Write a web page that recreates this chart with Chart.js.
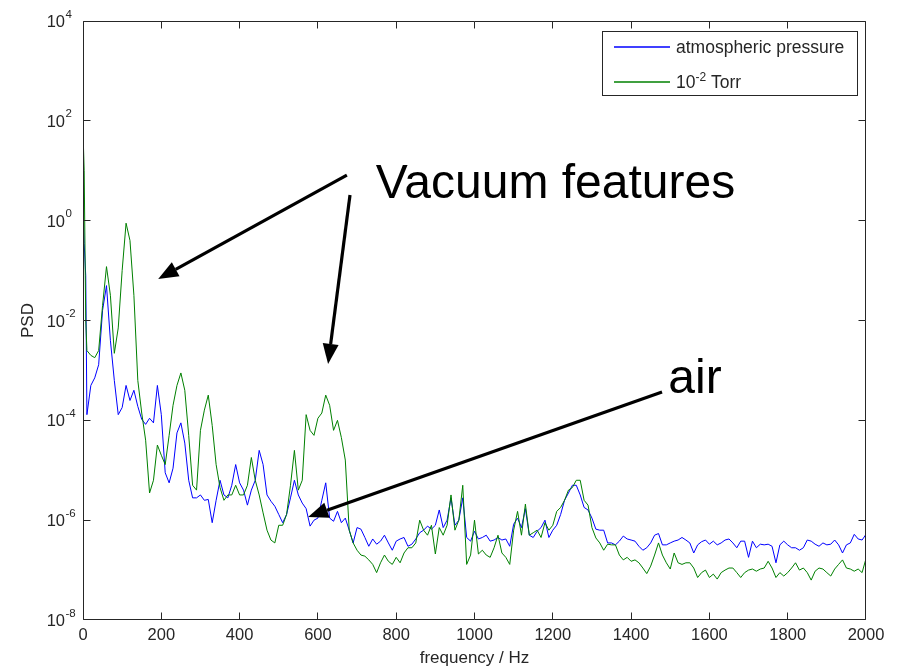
<!DOCTYPE html>
<html>
<head>
<meta charset="utf-8">
<script src="https://cdn.jsdelivr.net/npm/chart.js@4.4.0/dist/chart.umd.min.js"></script>
<style>
html,body{margin:0;padding:0;background:#fff;}
#wrap{width:899px;height:668px;}
</style>
</head>
<body>
<div id="wrap"><canvas id="c" width="899" height="668"></canvas></div>
<script>
// ---------------- data ----------------
const freqHz = [0,3,7,
10,20,30,40,50,60,70,80,90,100,
110,120,130,140,150,160,170,180,190,200,
210,220,230,240,250,260,270,280,290,300,
310,320,330,340,350,360,370,380,390,400,
410,420,430,440,450,460,470,480,490,500,
510,520,530,540,550,560,570,580,590,600,
610,620,630,640,650,660,670,680,690,700,
710,720,730,740,750,760,770,780,790,800,
810,820,830,840,850,860,870,880,890,900,
910,920,930,940,950,960,970,980,990,1000,
1010,1020,1030,1040,1050,1060,1070,1080,1090,1100,
1110,1120,1130,1140,1150,1160,1170,1180,1190,1200,
1210,1220,1230,1240,1250,1260,1270,1280,1290,1300,
1310,1320,1330,1340,1350,1360,1370,1380,1390,1400,
1410,1420,1430,1440,1450,1460,1470,1480,1490,1500,
1510,1520,1530,1540,1550,1560,1570,1580,1590,1600,
1610,1620,1630,1640,1650,1660,1670,1680,1690,1700,
1710,1720,1730,1740,1750,1760,1770,1780,1790,1800,
1810,1820,1830,1840,1850,1860,1870,1880,1890,1900,
1910,1920,1930,1940,1950,1960,1970,1980,1990,2000];

const atmosphericPSD = [2.0,0.35,0.079,
1.3e-4,5.0e-4,7.1e-4,1.3e-3,1.6e-2,5.0e-2,4.0e-3,6.3e-4,1.3e-4,1.8e-4,
5.0e-4,2.5e-4,4.0e-4,1.9e-4,1.05e-4,8.3e-5,1.1e-4,8.9e-5,5.0e-4,1.3e-4,
8.9e-6,5.6e-6,1.1e-5,5.6e-5,8.9e-5,3.5e-5,6.3e-6,2.8e-6,2.8e-6,3.2e-6,
2.5e-6,2.6e-6,8.9e-7,2.5e-6,6.3e-6,3.2e-6,2.8e-6,5.0e-6,1.3e-5,5.6e-6,
4.0e-6,2.0e-6,4.0e-6,6.3e-6,2.5e-5,1.3e-5,3.2e-6,2.4e-6,1.9e-6,1.3e-6,
8.9e-7,1.3e-6,2.8e-6,6.3e-6,3.2e-6,2.2e-6,1.7e-6,7.6e-7,1.0e-6,1.1e-6,
2.5e-6,5.6e-6,1.1e-6,9.5e-7,1.5e-6,8.9e-7,1.1e-6,6.3e-7,3.5e-7,7.1e-7,
6.6e-7,4.5e-7,3.0e-7,4.2e-7,3.3e-7,3.8e-7,5.0e-7,3.5e-7,2.5e-7,3.8e-7,
4.2e-7,4.5e-7,3.0e-7,3.3e-7,4.2e-7,5.6e-7,6.3e-7,7.6e-7,6.6e-7,7.9e-7,
1.6e-6,7.1e-7,1.0e-6,2.8e-6,7.9e-7,1.0e-6,2.8e-6,4.5e-7,3.8e-7,6.0e-7,
4.2e-7,4.5e-7,5.0e-7,3.8e-7,4.0e-7,4.5e-7,4.0e-7,4.2e-7,3.0e-7,8.3e-7,
1.1e-6,7.1e-7,1.7e-6,5.0e-7,4.5e-7,6.0e-7,7.1e-7,1.0e-6,4.5e-7,6.3e-7,
7.9e-7,1.3e-6,2.5e-6,3.5e-6,5.0e-6,5.0e-6,3.2e-6,1.8e-6,1.6e-6,1.1e-6,
6.6e-7,6.3e-7,6.3e-7,3.5e-7,3.5e-7,3.2e-7,3.8e-7,4.8e-7,4.2e-7,4.0e-7,
3.8e-7,3.0e-7,2.5e-7,2.8e-7,3.5e-7,5.0e-7,5.4e-7,3.2e-7,3.2e-7,3.5e-7,
3.8e-7,4.0e-7,4.5e-7,4.0e-7,3.5e-7,2.2e-7,3.2e-7,3.7e-7,4.0e-7,3.3e-7,
3.8e-7,3.2e-7,3.5e-7,4.0e-7,4.2e-7,3.5e-7,2.8e-7,3.8e-7,3.8e-7,1.8e-7,
3.8e-7,2.8e-7,3.3e-7,3.2e-7,3.3e-7,3.0e-7,1.4e-7,3.2e-7,3.8e-7,3.2e-7,
2.8e-7,2.8e-7,2.5e-7,2.8e-7,4.0e-7,3.8e-7,3.3e-7,3.0e-7,3.5e-7,3.2e-7,
3.3e-7,4.0e-7,3.2e-7,2.2e-7,3.2e-7,3.5e-7,5.2e-7,4.2e-7,4.0e-7,5.2e-7];

const torrPSD = [63,10,1.0e-2,
2.5e-3,2.0e-3,1.8e-3,2.5e-3,2.0e-2,0.12,3.2e-2,2.2e-3,7.1e-3,0.10,
0.89,0.40,3.2e-2,6.3e-4,1.4e-4,4.0e-5,3.5e-6,6.3e-6,3.2e-5,2.0e-5,
1.3e-5,5.0e-5,2.0e-4,5.0e-4,8.9e-4,4.0e-4,5.0e-5,5.0e-6,4.0e-6,6.3e-5,
1.6e-4,3.2e-4,7.9e-5,1.3e-5,4.5e-6,2.5e-6,3.2e-6,3.2e-6,5.0e-6,3.2e-6,
3.2e-6,5.0e-6,1.8e-5,6.3e-6,3.2e-6,1.4e-6,6.3e-7,4.0e-7,3.5e-7,7.9e-7,
7.9e-7,1.3e-6,5.0e-6,2.5e-5,4.0e-6,6.3e-6,1.3e-4,6.3e-5,5.0e-5,1.1e-4,
1.4e-4,3.2e-4,2.0e-4,6.3e-5,1.0e-4,4.5e-5,1.6e-5,6.3e-7,3.5e-7,2.5e-7,
2.0e-7,1.9e-7,1.6e-7,1.3e-7,8.9e-8,1.4e-7,2.0e-7,1.5e-7,1.3e-7,1.8e-7,
1.4e-7,2.2e-7,2.8e-7,2.8e-7,3.5e-7,1.0e-6,6.3e-7,5.0e-7,7.9e-7,2.1e-7,
7.1e-7,5.0e-7,7.9e-7,3.2e-6,6.3e-7,1.0e-6,5.0e-6,1.3e-7,2.0e-7,1.0e-6,
2.1e-7,2.5e-7,2.0e-7,1.8e-7,2.8e-7,5.0e-7,2.2e-7,1.8e-7,1.3e-7,6.3e-7,
1.5e-6,5.0e-7,2.1e-6,5.0e-7,5.6e-7,6.3e-7,4.5e-7,8.9e-7,6.3e-7,7.9e-7,
1.5e-6,1.8e-6,2.5e-6,4.0e-6,4.5e-6,6.3e-6,6.3e-6,2.5e-6,2.0e-6,7.1e-7,
4.4e-7,3.5e-7,2.5e-7,3.3e-7,3.2e-7,3.2e-7,2.0e-7,1.6e-7,1.8e-7,1.5e-7,
1.6e-7,1.4e-7,1.1e-7,8.5e-8,1.2e-7,2.0e-7,3.5e-7,2.0e-7,1.4e-7,1.05e-7,
2.2e-7,1.4e-7,1.3e-7,1.4e-7,1.4e-7,1.1e-7,7.1e-8,8.9e-8,1.0e-7,7.1e-8,
8.3e-8,6.6e-8,8.9e-8,1.0e-7,1.1e-7,1.1e-7,8.9e-8,7.1e-8,8.9e-8,1.0e-7,
1.05e-7,9.5e-8,1.05e-7,1.1e-7,1.5e-7,1.1e-7,7.1e-8,8.9e-8,7.6e-8,8.9e-8,
1.1e-7,1.4e-7,1.0e-7,1.1e-7,8.9e-8,6.3e-8,9.5e-8,1.1e-7,1.05e-7,8.9e-8,
7.6e-8,1.05e-7,1.3e-7,1.6e-7,1.1e-7,1.05e-7,9.5e-8,1.05e-7,8.9e-8,1.7e-7];

const seriesLabels = ['atmospheric pressure', '10^{-2} Torr'];
const xTickValues = [0,200,400,600,800,1000,1200,1400,1600,1800,2000];
const yTickValues = [1e-8,1e-6,1e-4,1e-2,1e0,1e2,1e4];
const xAxisTitle = 'frequency / Hz';
const yAxisTitle = 'PSD';

// callouts placed in data coordinates (frequency, PSD)
const calloutLabels = [
  {text: 'Vacuum features', at: [748, 2.85]},
  {text: 'air', at: [1495, 3.53e-4]}
];
const calloutArrows = [
  {from: [674, 8.2], to: [192, 0.068]},
  {from: [682, 3.27], to: [626, 1.35e-3]},
  {from: [1479, 3.7e-4], to: [575, 1.16e-6]}
];

// ---------------- style ----------------
const FONT = '"Liberation Sans", Arial, Helvetica, sans-serif';
const INK = '#262626';
const SERIES_COLORS = ['#0000ff', '#008000'];

function parseRich(label){
  const m = label.match(/^(.*?)\^\{(.*?)\}(.*)$/);
  if(!m) return [{t: label}];
  return [{t: m[1]}, {t: m[2], sup: true}, {t: m[3]}];
}
function drawRich(ctx, parts, x, y, size, supSize, rise){
  let cx = x;
  ctx.textAlign = 'left';
  ctx.textBaseline = 'alphabetic';
  parts.forEach(p => {
    if(!p.t) return;
    ctx.font = (p.sup ? supSize : size) + 'px ' + FONT;
    ctx.fillText(p.t, cx, p.sup ? y - rise : y);
    cx += ctx.measureText(p.t).width;
  });
}
function drawArrow(ctx, x1, y1, x2, y2){
  const ang = Math.atan2(y2 - y1, x2 - x1);
  const L = 20, W = 8;
  const bx = x2 - L * Math.cos(ang), by = y2 - L * Math.sin(ang);
  ctx.beginPath();
  ctx.moveTo(x1, y1); ctx.lineTo(bx, by);
  ctx.lineWidth = 3.2; ctx.strokeStyle = '#000'; ctx.lineCap = 'butt';
  ctx.stroke();
  ctx.beginPath();
  ctx.moveTo(x2, y2);
  ctx.lineTo(bx + W * Math.sin(ang), by - W * Math.cos(ang));
  ctx.lineTo(bx - W * Math.sin(ang), by + W * Math.cos(ang));
  ctx.closePath();
  ctx.fillStyle = '#000';
  ctx.fill();
}

const matlabStyle = {
  id: 'matlabStyle',
  beforeDraw(chart){
    const c = chart.ctx; c.save(); c.fillStyle = '#fff'; c.fillRect(0, 0, chart.width, chart.height); c.restore();
  },
  afterDraw(chart){
    const ctx = chart.ctx, a = chart.chartArea, xs = chart.scales.x, ys = chart.scales.y;
    ctx.save();
    const L = a.left + 0.5, R = a.right - 0.5, T = a.top + 0.5, B = a.bottom - 0.5;
    const clamp = (v, lo, hi) => Math.max(lo, Math.min(hi, v));
    ctx.strokeStyle = INK; ctx.lineWidth = 1;
    ctx.beginPath();
    ctx.rect(L, T, R - L, B - T);
    const tl = 7;
    xTickValues.forEach(v => {
      const p = clamp(Math.floor(xs.getPixelForValue(v)) + 0.5, L, R);
      ctx.moveTo(p, B); ctx.lineTo(p, B - tl);
      ctx.moveTo(p, T); ctx.lineTo(p, T + tl);
    });
    yTickValues.forEach(v => {
      const p = clamp(Math.floor(ys.getPixelForValue(v)) + 0.5, T, B);
      ctx.moveTo(L, p); ctx.lineTo(L + tl, p);
      ctx.moveTo(R, p); ctx.lineTo(R - tl, p);
    });
    ctx.stroke();

    // y tick labels 10^n
    ctx.fillStyle = INK;
    yTickValues.forEach(v => {
      const p = ys.getPixelForValue(v);
      const e = Math.round(Math.log10(v));
      ctx.font = '16.5px ' + FONT; ctx.textAlign = 'right'; ctx.textBaseline = 'alphabetic';
      ctx.fillText('10', a.left - 18, p + 6);
      ctx.font = '11.5px ' + FONT; ctx.textAlign = 'left';
      ctx.fillText(String(e), a.left - 17.5, p - 3.5);
    });

    // axis titles
    ctx.font = '17px ' + FONT; ctx.textAlign = 'center'; ctx.textBaseline = 'alphabetic';
    ctx.fillText(xAxisTitle, (a.left + a.right) / 2, 663);
    ctx.save();
    ctx.translate(32.5, (a.top + a.bottom) / 2);
    ctx.rotate(-Math.PI / 2);
    ctx.fillText(yAxisTitle, 0, 0);
    ctx.restore();

    // legend
    const bx = 602.5, by = 31.5, bw = 255, bh = 64;
    ctx.fillStyle = '#fff'; ctx.fillRect(bx, by, bw, bh);
    ctx.strokeStyle = INK; ctx.lineWidth = 1; ctx.strokeRect(bx, by, bw, bh);
    const rows = [47, 82];
    chart.data.datasets.forEach((ds, i) => {
      const y = rows[i];
      ctx.beginPath(); ctx.moveTo(614, y); ctx.lineTo(670, y);
      ctx.strokeStyle = SERIES_COLORS[i]; ctx.lineWidth = 1.5; ctx.stroke();
      ctx.fillStyle = INK;
      drawRich(ctx, parseRich(ds.label), 676, y + 6, 17.5, 12, 7);
    });

    // callouts
    calloutArrows.forEach(ar => {
      drawArrow(ctx, xs.getPixelForValue(ar.from[0]), ys.getPixelForValue(ar.from[1]),
                     xs.getPixelForValue(ar.to[0]), ys.getPixelForValue(ar.to[1]));
    });
    ctx.fillStyle = '#000'; ctx.font = '48px ' + FONT; ctx.textAlign = 'left'; ctx.textBaseline = 'alphabetic';
    calloutLabels.forEach(c => {
      ctx.fillText(c.text, xs.getPixelForValue(c.at[0]), ys.getPixelForValue(c.at[1]));
    });
    ctx.restore();
  }
};

new Chart(document.getElementById('c'), {
  type: 'line',
  data: {
    datasets: [
      {label: seriesLabels[0], data: freqHz.map((f, i) => ({x: f, y: atmosphericPSD[i]})),
       borderColor: SERIES_COLORS[0], borderWidth: 1, pointRadius: 0, tension: 0, fill: false, order: 1},
      {label: seriesLabels[1], data: freqHz.map((f, i) => ({x: f, y: torrPSD[i]})),
       borderColor: SERIES_COLORS[1], borderWidth: 1, pointRadius: 0, tension: 0, fill: false, order: 0}
    ]
  },
  options: {
    responsive: false, animation: false, devicePixelRatio: 1,
    layout: {padding: {left: 0, top: 21, right: 33, bottom: 0}},
    plugins: {legend: {display: false}, tooltip: {enabled: false}, title: {display: false}},
    scales: {
      x: {
        type: 'linear', min: 0, max: 2000,
        afterBuildTicks: s => { s.ticks = xTickValues.map(v => ({value: v})); },
        afterFit: s => { s.height = 48; },
        grid: {display: false, drawTicks: false}, border: {display: false},
        ticks: {font: {family: FONT, size: 16.5}, color: INK, padding: 6, maxRotation: 0, autoSkip: false,
                callback: v => String(v)}
      },
      y: {
        type: 'logarithmic', min: 1e-8, max: 1e4,
        afterBuildTicks: s => { s.ticks = yTickValues.map(v => ({value: v})); },
        afterFit: s => { s.width = 83; },
        grid: {display: false, drawTicks: false}, border: {display: false},
        ticks: {display: false}
      }
    }
  },
  plugins: [matlabStyle]
});
</script>
</body>
</html>
